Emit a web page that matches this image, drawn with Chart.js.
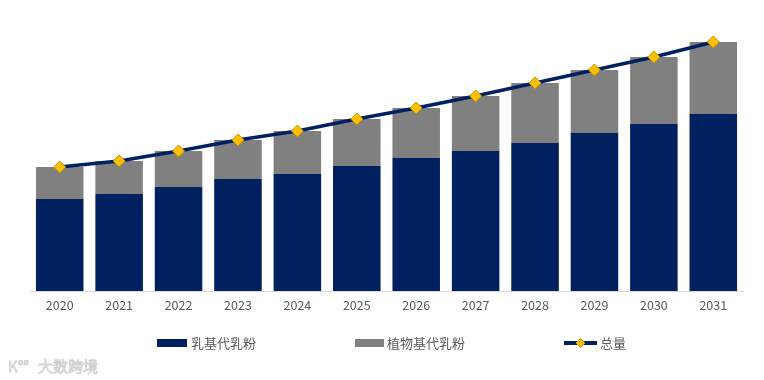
<!DOCTYPE html>
<html>
<head>
<meta charset="utf-8">
<script src="https://cdn.jsdelivr.net/npm/chart.js@4"></script>
<style>
  html, body { margin: 0; padding: 0; background: #fff; }
  #wrap { width: 764px; height: 380px; }
</style>
</head>
<body>
<div id="wrap"><canvas id="barChart" width="764" height="380"></canvas></div>
<script>
const years = ['2020', '2021', '2022', '2023', '2024', '2025', '2026', '2027', '2028', '2029', '2030', '2031'];
const milkBased = [92, 97, 104, 112, 117, 125, 133, 140, 148, 158, 167, 177];   // 乳基代乳粉
const plantBased = [32, 33, 36, 39, 43, 47, 50, 55, 60, 63, 67, 72];           // 植物基代乳粉
const total = [124, 130, 140, 151, 160, 172, 183, 195, 208, 221, 234, 249];    // 总量

const NAVY = '#002060';
const GREY = '#808080';
const GOLD = '#FFC000';
const FONT = '"Noto Sans CJK SC", "Noto Sans", sans-serif';

// legend + watermark drawn by hand, the built-in legend can't space items like this
const bottomLegend = {
  id: 'bottomLegend',
  afterDraw(chart) {
    const c = chart.ctx;
    const y = 343;
    c.save();
    c.font = '13px ' + FONT;
    c.fillStyle = '#595959';
    c.textBaseline = 'middle';

    c.fillStyle = NAVY;
    c.fillRect(157, y - 4, 30, 8);
    c.fillStyle = '#595959';
    c.fillText(chart.data.datasets[1].label, 191, y);

    c.fillStyle = GREY;
    c.fillRect(355, y - 4, 29, 8);
    c.fillStyle = '#595959';
    c.fillText(chart.data.datasets[2].label, 387, y);

    c.strokeStyle = NAVY;
    c.lineWidth = 4;
    c.beginPath();
    c.moveTo(564, y);
    c.lineTo(597, y);
    c.stroke();
    c.fillStyle = GOLD;
    c.strokeStyle = '#BF9000';
    c.lineWidth = 1;
    c.beginPath();
    c.moveTo(580.5, y - 4.5);
    c.lineTo(585, y);
    c.lineTo(580.5, y + 4.5);
    c.lineTo(576, y);
    c.closePath();
    c.fill();
    c.stroke();
    c.fillStyle = '#595959';
    c.fillText(chart.data.datasets[0].label, 600, y);

    // watermark
    c.font = '15px ' + FONT;
    c.fillStyle = '#ebebeb';
    c.strokeStyle = '#cfcfcf';
    c.lineWidth = 0.8;
    c.fillText('K°°', 8, 366);
    c.strokeText('K°°', 8, 366);
    c.fillText('大数跨境', 38, 366);
    c.strokeText('大数跨境', 38, 366);
    c.restore();
  }
};

const chart = new Chart(document.getElementById('barChart'), {
  data: {
    labels: years,
    datasets: [
      {
        type: 'line',
        label: '总量',
        data: total,
        borderColor: NAVY,
        borderWidth: 3.5,
        pointStyle: 'rectRot',
        pointRadius: 6,
        pointBackgroundColor: GOLD,
        pointBorderColor: '#BF9000',
        pointBorderWidth: 1,
        stack: 'line',
        order: 0
      },
      {
        type: 'bar',
        label: '乳基代乳粉',
        data: milkBased,
        backgroundColor: NAVY,
        stack: 'bars',
        order: 1
      },
      {
        type: 'bar',
        label: '植物基代乳粉',
        data: plantBased,
        backgroundColor: GREY,
        stack: 'bars',
        order: 1
      }
    ]
  },
  options: {
    responsive: false,
    animation: false,
    layout: { padding: { left: 30, right: 21, top: 21, bottom: 60 } },
    datasets: { bar: { categoryPercentage: 1, barPercentage: 0.8 } },
    scales: {
      x: {
        stacked: true,
        grid: { display: false, drawTicks: false },
        border: { color: '#d9d9d9', width: 1 },
        ticks: { color: '#595959', font: { family: FONT, size: 12.5 }, padding: 7 }
      },
      y: {
        stacked: true,
        display: false,
        min: 0,
        max: 270
      }
    },
    plugins: {
      legend: { display: false },
      tooltip: { enabled: false }
    }
  },
  plugins: [bottomLegend]
});
</script>
</body>
</html>
